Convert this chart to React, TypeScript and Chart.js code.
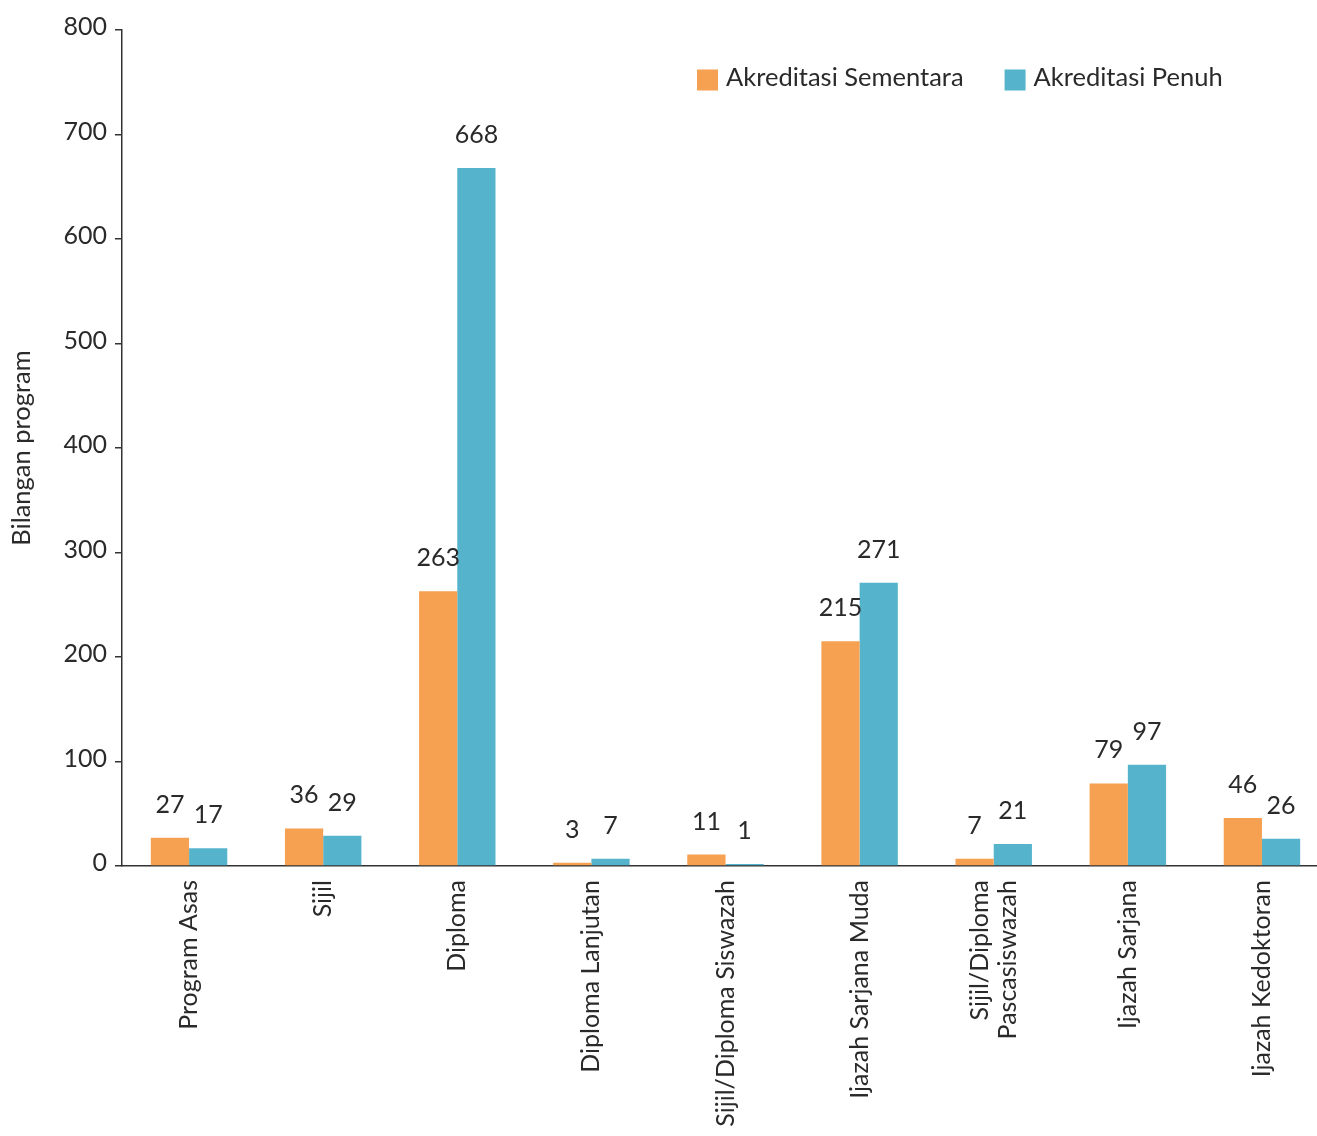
import React, { useEffect, useRef } from 'react';
import { Chart, registerables } from 'chart.js';

Chart.register(...registerables);

const categories: (string | string[])[] = [
  'Program Asas',
  'Sijil',
  'Diploma',
  'Diploma Lanjutan',
  'Sijil/Diploma Siswazah',
  'Ijazah Sarjana Muda',
  ['Sijil/Diploma', 'Pascasiswazah'],
  'Ijazah Sarjana',
  'Ijazah Kedoktoran',
];
const sementara = [27, 36, 263, 3, 11, 215, 7, 79, 46];
const penuh = [17, 29, 668, 7, 1, 271, 21, 97, 26];
const seriesNames = ['Akreditasi Sementara', 'Akreditasi Penuh'];
const yTitle = 'Bilangan program';
const yMin = 0;
const yMax = 800;
const yStep = 100;

const ORANGE = '#F6A052';
const BLUE = '#55B4CC';
const TEXT = '#2a2a2a';
const AXIS = '#333333';
const FONT = 'Lato, "Open Sans", sans-serif';

const valueLabels = {
  id: 'valueLabels',
  afterDatasetsDraw(chart: any) {
    const ctx = chart.ctx;
    ctx.save();
    ctx.font = `25px ${FONT}`;
    ctx.fillStyle = TEXT;
    ctx.textAlign = 'center';
    ctx.textBaseline = 'alphabetic';
    chart.data.datasets.forEach((ds: any, i: number) => {
      const meta = chart.getDatasetMeta(i);
      meta.data.forEach((bar: any, j: number) => {
        ctx.fillText(String(ds.data[j]), bar.x, bar.y - 25);
      });
    });
    ctx.restore();
  },
};

const categoryLabels = {
  id: 'categoryLabels',
  afterDraw(chart: any) {
    const ctx = chart.ctx;
    const xs = chart.scales.x;
    const lineH = 28;
    ctx.save();
    ctx.font = `25px ${FONT}`;
    ctx.fillStyle = TEXT;
    ctx.textAlign = 'right';
    ctx.textBaseline = 'middle';
    (chart.data.labels as any[]).forEach((lab: any, i: number) => {
      const lines = Array.isArray(lab) ? lab : [lab];
      const cx = xs.getPixelForValue(i);
      const top = chart.chartArea.bottom + 14;
      lines.forEach((ln: string, k: number) => {
        const off = (k - (lines.length - 1) / 2) * lineH;
        ctx.save();
        ctx.translate(cx + off, top);
        ctx.rotate(-Math.PI / 2);
        ctx.fillText(ln, 0, 0);
        ctx.restore();
      });
    });
    ctx.restore();
  },
};

const customLegend = {
  id: 'customLegend',
  afterDraw(chart: any) {
    const ctx = chart.ctx;
    ctx.save();
    ctx.font = `25.5px ${FONT}`;
    ctx.textBaseline = 'middle';
    ctx.textAlign = 'left';
    let x = 697;
    const y = 80;
    const box = 21;
    chart.data.datasets.forEach((ds: any) => {
      ctx.fillStyle = ds.backgroundColor;
      ctx.fillRect(x, y - box / 2, box, box);
      ctx.fillStyle = TEXT;
      ctx.fillText(ds.label, x + box + 8, y - 2);
      const w = ctx.measureText(ds.label).width;
      x += box + 8 + w + 41;
    });
    ctx.restore();
  },
};

export default function App() {
  const ref = useRef<HTMLCanvasElement | null>(null);

  useEffect(() => {
    if (!ref.current) return;
    const chart = new Chart(ref.current, {
      type: 'bar',
      data: {
        labels: categories as any,
        datasets: [
          {
            label: seriesNames[0],
            data: sementara,
            backgroundColor: ORANGE,
            categoryPercentage: 0.57,
            barPercentage: 1.0,
            minBarLength: 2,
          },
          {
            label: seriesNames[1],
            data: penuh,
            backgroundColor: BLUE,
            categoryPercentage: 0.57,
            barPercentage: 1.0,
            minBarLength: 2,
          },
        ],
      },
      options: {
        responsive: false,
        animation: false,
        layout: { padding: { top: 30, left: 0, right: 21, bottom: 0 } },
        plugins: {
          legend: { display: false },
          tooltip: { enabled: false },
        },
        scales: {
          x: {
            offset: true,
            grid: { display: false, drawTicks: false },
            border: { display: true, color: AXIS, width: 1.5 },
            ticks: {
              display: false,
              autoSkip: false,
            },
            afterFit: (s: any) => {
              s.height = 270;
            },
          },
          y: {
            min: yMin,
            max: yMax,
            grid: {
              drawOnChartArea: false,
              drawTicks: true,
              tickLength: 7,
              color: AXIS,
              lineWidth: 1.5,
            },
            border: { display: true, color: AXIS, width: 1.5 },
            ticks: {
              stepSize: yStep,
              color: TEXT,
              font: { family: FONT, size: 25 },
              padding: 8,
              labelOffset: -3,
            },
            title: {
              display: true,
              text: yTitle,
              color: TEXT,
              font: { family: FONT, size: 25.5 },
              padding: { top: 6, bottom: 4 },
            },
            afterFit: (s: any) => {
              s.width = 122;
            },
          },
        },
      },
      plugins: [valueLabels, categoryLabels, customLegend],
    });
    return () => chart.destroy();
  }, []);

  return (
    <div
      style={{
        position: 'absolute',
        left: 0,
        top: 0,
        width: 1317,
        height: 1136,
        overflow: 'hidden',
        background: '#ffffff',
      }}
    >
      <canvas ref={ref} width={1350} height={1136} style={{ display: 'block' }} />
    </div>
  );
}
